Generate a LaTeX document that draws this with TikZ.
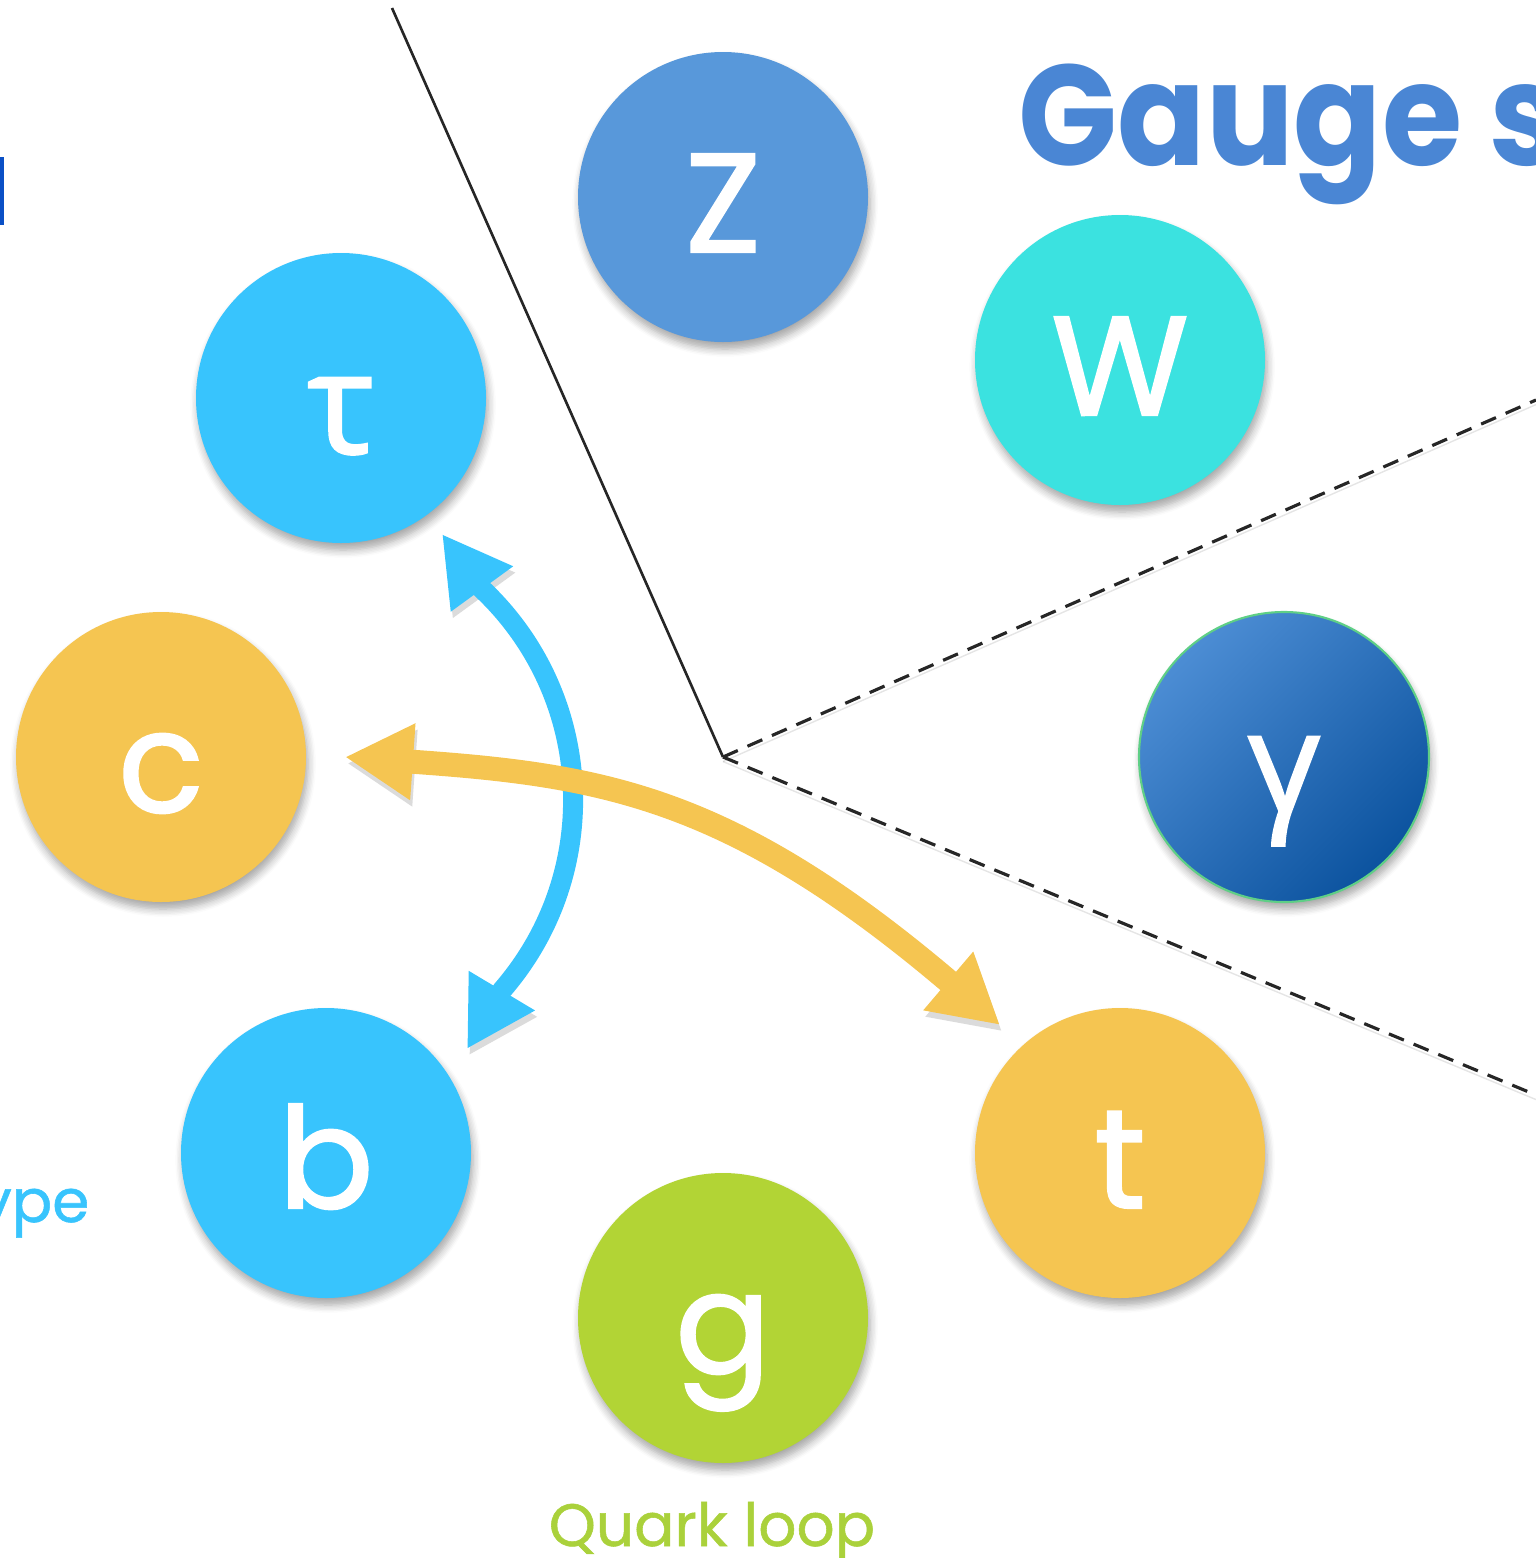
\documentclass[tikz,border=0pt]{standalone}
\usepackage{fontspec}
\setmainfont{Poppins}
\newfontfamily\letterfont{Poppins}[FakeBold=1.6]
\newfontfamily\labelfont{Poppins}[FakeBold=0.9]
\newfontfamily\greekfont{Open Sans}[FakeBold=1.6]
\usetikzlibrary{arrows.meta,shadows.blur}
\definecolor{leptonblue}{HTML}{38C4FD}
\definecolor{quarkyellow}{HTML}{F5C551}
\definecolor{zblue}{HTML}{5898DA}
\definecolor{wcyan}{HTML}{3BE2E0}
\definecolor{gluongreen}{HTML}{B2D435}
\definecolor{photontop}{HTML}{4C8DD4}
\definecolor{photonbot}{HTML}{0C539F}
\definecolor{photonrim}{HTML}{5FCF86}
\definecolor{gaugeblue}{HTML}{4A86D4}
\definecolor{loopgreen}{HTML}{AAD13B}
\definecolor{edgeblue}{HTML}{0A50C6}
\tikzset{
  particle/.style = {circle, inner sep=0pt, minimum size=2.9cm, text=white,
                     text height=1.1cm, text depth=0pt,
                     font=\letterfont\fontsize{40}{42}\selectfont,
                     blur shadow={shadow xshift=0.6pt, shadow yshift=-2pt,
                     shadow blur steps=6, shadow opacity=35}},
  greek/.style    = {font=\greekfont\fontsize{40}{42}\selectfont},
  mixarrow/.style = {{Triangle[length=6.8mm,width=7.2mm]}-{Triangle[length=6.8mm,width=7.2mm]},
                     line join=round,
                     preaction={draw=black, draw opacity=0.14,
                     transform canvas={xshift=0.6pt, yshift=-1.8pt}}},
  border/.style   = {line width=0.75pt, black!85},
  cut/.style      = {line width=0.9pt, black!85, dash pattern=on 4.6pt off 3pt,
                     preaction={draw=black, draw opacity=0.1,
                     transform canvas={yshift=-1.3pt}}},
}

\begin{document}
\begin{tikzpicture}[x=1cm, y=1cm]
\useasboundingbox (0,0) rectangle (15.36,-15.58);
\clip (0,0) rectangle (15.36,-15.58);
% ---------- sector lines ----------
\coordinate (apex)  at (7.23,-7.57);
\coordinate (top)   at (3.92,-0.08);
\coordinate (upper) at (15.36,-4.00);
\coordinate (lower) at (15.36,-10.95);
\draw[border] (top) -- (apex);
\draw[cut] (apex) -- (upper);
\draw[cut] (apex) -- (lower);
% ---------- labels ----------
\fill[edgeblue] (0,-1.57) rectangle (0.035,-2.25);
\node[anchor=base west, inner sep=0pt, text=gaugeblue, transform shape, yscale=1.1,
      font=\bfseries\fontsize{37}{40}\selectfont] (gauge) at (10.18,-1.65) {Gauge s};
\node[anchor=base east, inner sep=0pt, text=leptonblue,
      font=\labelfont\fontsize{17}{20}\selectfont] (type) at (0.90,-12.22) {ype};
\node[anchor=base, inner sep=0pt, text=loopgreen,
      font=\labelfont\fontsize{17}{20}\selectfont] (loop) at (7.12,-15.46) {Quark loop};
% ---------- particles ----------
\node[particle, fill=zblue] (Z) at (7.23,-1.97) {Z};
\node[particle, fill=wcyan] (W) at (11.20,-3.60) {W};
\node[particle, greek, fill=leptonblue] (tau) at (3.41,-3.98) {τ};
\node[particle, fill=quarkyellow] (c) at (1.61,-7.57) {c};
\node[particle, greek, draw=photonrim, line width=0.6pt, top color=photontop,
      bottom color=photonbot, shading angle=45] (gamma) at (12.84,-7.57) {γ};
\node[particle, fill=leptonblue] (b) at (3.26,-11.53) {b};
\node[particle, fill=quarkyellow] (t) at (11.20,-11.53) {t};
\node[particle, fill=gluongreen] (g) at (7.23,-13.18) {g};
% ---------- mixing arrows ----------
\path (tau.center) ++(1.01,-1.36) coordinate (tautip);
\path (tau.center) ++(1.41,-1.91) coordinate (tauarc);
\path (b.center) ++(1.41,1.04) coordinate (btip);
\path (c.center) ++(1.84,0) coordinate (cend);
\path (t.center) ++(-1.20,1.28) coordinate (tend);
\draw[mixarrow, leptonblue, line width=2mm]
  (tautip) -- (tauarc) arc[start angle=46.7, end angle=-40.9, radius=2.9] -- (btip);
\draw[mixarrow, quarkyellow, line width=2.4mm]
  (cend) .. controls +(-4:2.56) and +(139.6:3.55) .. (tend);
\end{tikzpicture}
\end{document}
